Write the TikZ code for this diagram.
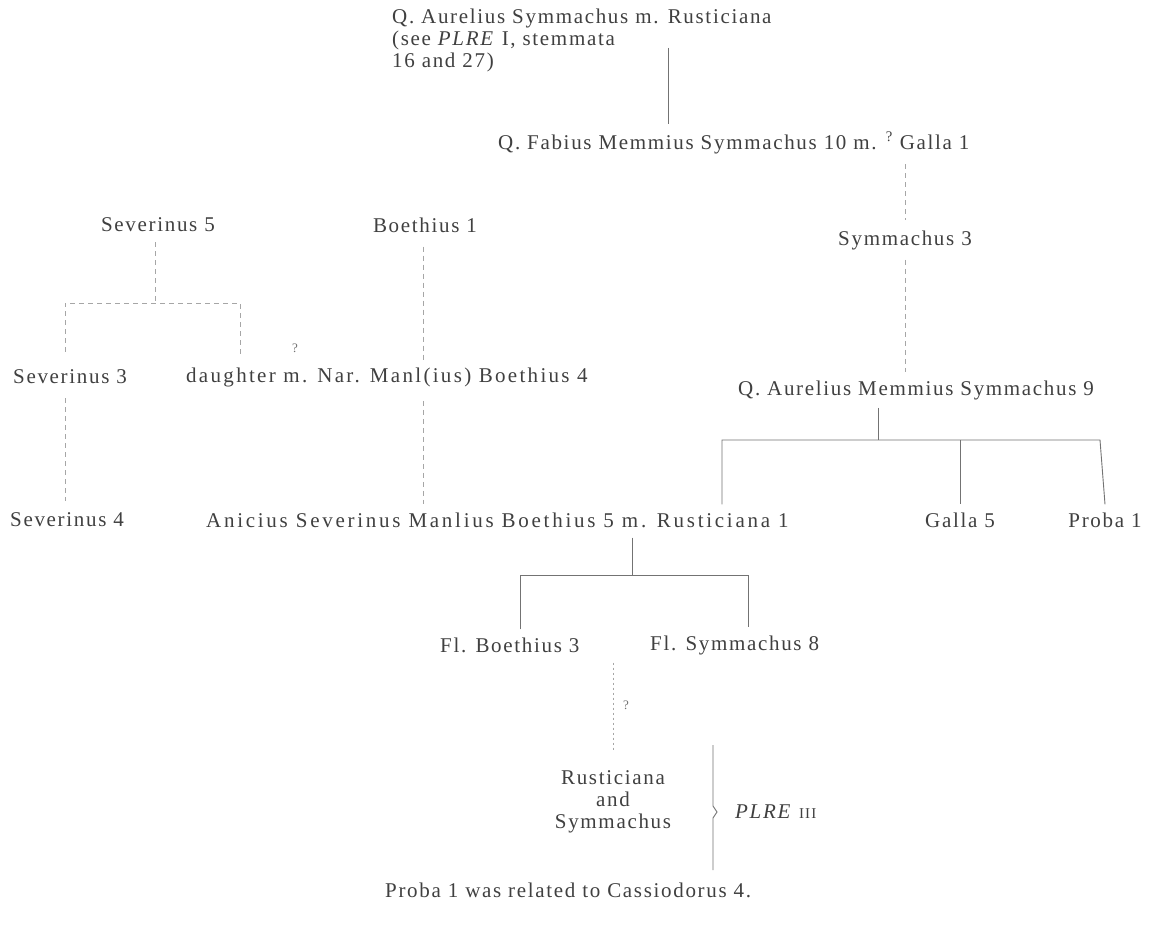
\documentclass[tikz,border=0pt]{standalone}
\usepackage{fontspec}
\setmainfont{Liberation Serif}[LetterSpace=8]
\newfontfamily\widefont{Liberation Serif}[LetterSpace=13]
\newfontfamily\midfont{Liberation Serif}[LetterSpace=11]
\begin{document}
\begin{tikzpicture}[x=1pt,y=-1pt,
  txt/.style={inner sep=0pt, text=black!75, font=\fontsize{21}{23}\selectfont},
  lnk/.style={draw=black!55, line width=0.9pt},
  dsh/.style={draw=black!35, line width=0.9pt, dash pattern=on 5pt off 4pt},
  dot/.style={draw=black!35, line width=0.9pt, dash pattern=on 2pt off 3pt},
  qm/.style={inner sep=0pt, text=black!55, font=\fontsize{13}{14}\selectfont}]
\useasboundingbox[fill=white] (0,0) rectangle (1166,945);
% top
\node[txt, anchor=west] (aur) at (392,18) {Q. Aurelius Symmachus m. Rusticiana};
\node[txt, anchor=north west, align=left] (aurnote) at (392,31) {(see \textit{PLRE} I, stemmata\\[-1pt]16 and 27)};
\node[txt, anchor=west] (fab) at (498,143) {Q. Fabius Memmius Symmachus 10 m. \textsuperscript{?} Galla 1};
\node[txt] (sym3) at (905,240) {Symmachus 3};
\node[txt, anchor=west] (qams) at (738,390) {Q. Aurelius Memmius Symmachus 9};
\node[txt, anchor=west, font=\widefont\fontsize{21}{23}\selectfont] (boe5) at (206,520) {Anicius Severinus Manlius Boethius 5 m. Rusticiana 1};
\node[txt] (galla5) at (960,520) {Galla 5};
\node[txt] (proba1) at (1105,520) {Proba 1};
\node[txt, anchor=west] (flb3) at (440,645) {Fl. Boethius 3};
\node[txt, anchor=west] (fls8) at (650,645) {Fl. Symmachus 8};
\node[txt, align=center] (rus) at (613,802) {Rusticiana\\[-1pt]and\\[-1pt]Symmachus};
\node[txt, anchor=west] (plre) at (735,812) {\textit{PLRE} {\fontsize{15}{16}\selectfont III}};
\node[txt, anchor=west] (note) at (385,890) {Proba 1 was related to Cassiodorus 4.};
% left
\node[txt] (sev5) at (158,225) {Severinus 5};
\node[txt] (boe1) at (425,225) {Boethius 1};
\node[txt, anchor=west] (sev3) at (13,377) {Severinus 3};
\node[txt, anchor=west, font=\midfont\fontsize{21}{23}\selectfont] (dau) at (186,377) {daughter m. Nar. Manl(ius) Boethius 4};
\node[txt, anchor=west] (sev4) at (10,520) {Severinus 4};
\node[qm] (q1) at (295,348) {?};
\node[qm] (q2) at (626,705) {?};
% junctions
\coordinate (j1) at (155,303);
\coordinate (j2) at (878,440);
\coordinate (j3) at (632,575);
% connectors
\draw[lnk] ([yshift=-20pt]aur.south -| 668,0) -- ([yshift=8pt]fab.north -| 668,0);
\draw[dsh] ([yshift=-10pt]fab.south -| sym3) -- ([yshift=10pt]sym3.north);
\draw[dsh] ([yshift=-10pt]sym3.south) -- ([yshift=8pt]qams.north -| sym3);
\draw[lnk] ([yshift=-8pt]qams.south -| j2) -- (j2);
\draw[lnk] ([yshift=8pt]boe5.north -| 722,0) -- (722,440) -- (1100,440) -- ([yshift=8pt]proba1.north);
\draw[lnk] (galla5.north |- j2) -- ([yshift=8pt]galla5.north);
\draw[lnk] ([yshift=-10pt]boe5.south -| j3) -- (j3);
\draw[lnk] ([yshift=8pt]flb3.north -| 520,0) -- (520,575) -- (748,575) -- ([yshift=8pt]fls8.north -| 748,0);
\draw[dot] ([yshift=-10pt]flb3.south -| rus) -- ([yshift=20pt]rus.north);
\draw[lnk] (713,745) -- (713,806) -- (717,812) -- (713,818) -- (713,870);
% left connectors
\draw[dsh] ([yshift=-10pt]sev5.south -| j1) -- (j1);
\draw[dsh] ([yshift=18pt]sev3.north -| 65,0) -- (65,303) -- (240,303) -- ([yshift=12pt]dau.north -| 240,0);
\draw[dsh] ([yshift=-14pt]sev3.south -| 65,0) -- ([yshift=12pt]sev4.north -| 65,0);
\draw[dsh] ([yshift=-14pt]boe1.south -| 423,0) -- ([yshift=6pt]dau.north -| 423,0);
\draw[dsh] ([yshift=-14pt]dau.south -| 423,0) -- ([yshift=8pt]boe5.north -| 423,0);
\end{tikzpicture}
\end{document}
